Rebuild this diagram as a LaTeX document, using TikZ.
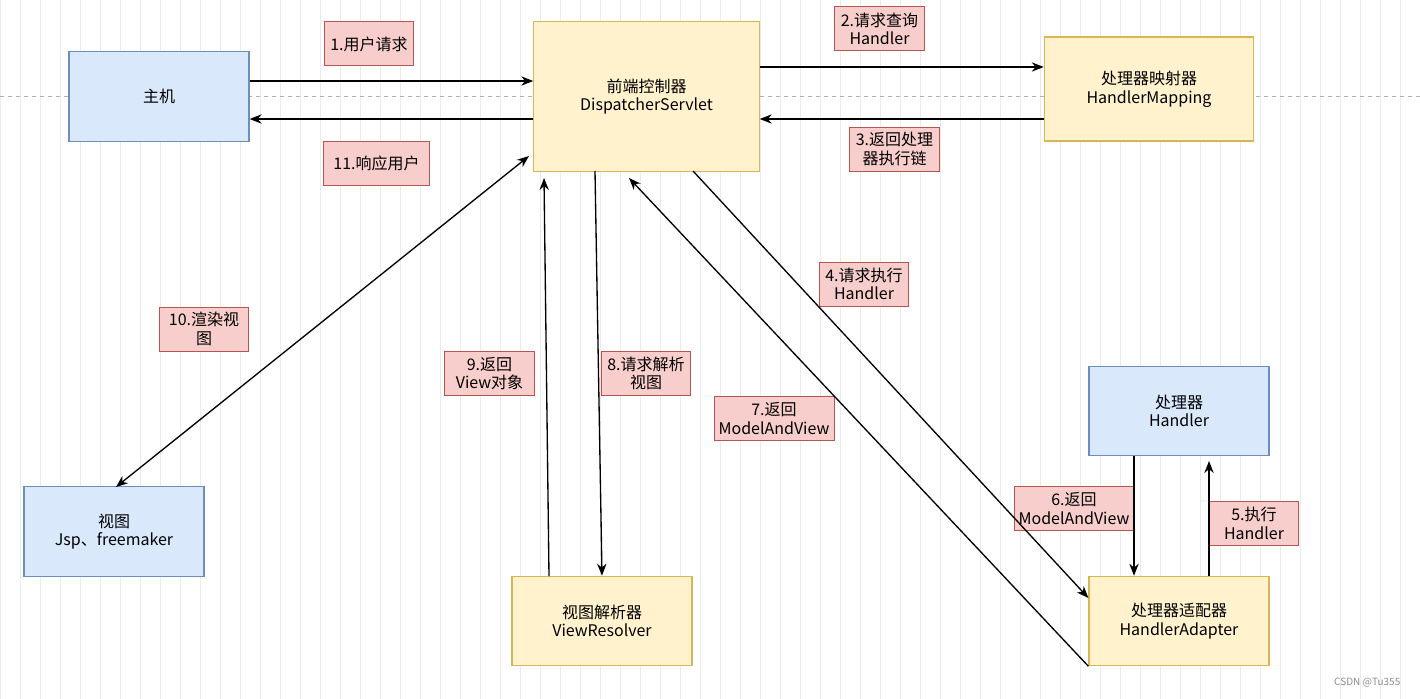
\documentclass[tikz,border=0pt]{standalone}
\usepackage{fontspec}
\setmainfont{Noto Sans CJK SC}
\usetikzlibrary{arrows.meta}
\definecolor{bf}{HTML}{DAE8FC}\definecolor{bs}{HTML}{6C8EBF}
\definecolor{yf}{HTML}{FFF2CC}\definecolor{ys}{HTML}{D6B656}
\definecolor{rf}{HTML}{F8CECC}\definecolor{rs}{HTML}{B85450}
\begin{document}
\begin{tikzpicture}[x=0.75pt,y=-0.75pt,
 box/.style={draw,line width=0.9pt,inner sep=0,align=center,font=\fontsize{12}{14}\selectfont},
 blue/.style={box,fill=bf,draw=bs},
 yel/.style={box,fill=yf,draw=ys},
 lab/.style={box,fill=rf,draw=rs,line width=0.75pt},
 arr/.style={-{Stealth[length=9pt,width=7pt]},line width=1pt}]
\useasboundingbox (0,0) rectangle (1420,699);
\fill[white] (0,0) rectangle (1420,699);
\draw[black!8,line width=0.5pt,step=20] (0,0) grid (1420,699);
\draw[black!30,dashed] (0,96) -- (1420,96);
\newcommand{\bx}[6]{\node[#1,minimum width=#4*0.75pt,minimum height=#5*0.75pt] (#6) at (#2,#3) {#6x};}
\node[blue,minimum width=135pt,minimum height=67pt] (zj) at (159,96.5) {主机};
\node[yel,minimum width=169pt,minimum height=112pt] (ds) at (646.5,96.5) {前端控制器\\DispatcherServlet};
\node[yel,minimum width=157pt,minimum height=78pt] (hm) at (1149,89) {处理器映射器\\HandlerMapping};
\node[blue,minimum width=135pt,minimum height=67pt] (hd) at (1179,411) {处理器\\Handler};
\node[blue,minimum width=135pt,minimum height=67pt] (vw) at (114,531.5) {视图\\Jsp、freemaker};
\node[yel,minimum width=135pt,minimum height=67pt] (vr) at (602,621) {视图解析器\\ViewResolver};
\node[yel,minimum width=135pt,minimum height=67pt] (ha) at (1179,621) {处理器适配器\\HandlerAdapter};
\node[lab,minimum width=67pt,minimum height=33pt] (l1) at (369,44) {1.用户请求};
\node[lab,minimum width=67pt,minimum height=33pt] (l2) at (879.5,29) {2.请求查询\\Handler};
\node[lab,minimum width=67pt,minimum height=33pt] (l3) at (894.5,149) {3.返回处理\\器执行链};
\node[lab,minimum width=79pt,minimum height=33pt] (l11) at (376.5,163.5) {11.响应用户};
\node[lab,minimum width=67pt,minimum height=33pt] (l4) at (864,284) {4.请求执行\\Handler};
\node[lab,minimum width=67pt,minimum height=33pt] (l10) at (204,329) {10.渲染视\\图};
\node[lab,minimum width=67pt,minimum height=33pt] (l9) at (489.5,373.5) {9.返回\\View对象};
\node[lab,minimum width=67pt,minimum height=33pt] (l8) at (646,373.5) {8.请求解析\\视图};
\node[lab,minimum width=90pt,minimum height=33pt] (l7) at (774,418.5) {7.返回\\ModelAndView};
\node[lab,minimum width=90pt,minimum height=33pt] (l6) at (1074,508.5) {6.返回\\ModelAndView};
\node[lab,minimum width=67pt,minimum height=33pt] (l5) at (1254,523.5) {5.执行\\Handler};
\coordinate (p1) at (629,178); \coordinate (p2) at (529,156); \coordinate (p3) at (544,178);
\coordinate (p4) at (1209,461);
\draw[arr] (zj.east |- 0,81) -- (ds.west |- 0,81);
\draw[arr] (ds.west |- 0,119) -- (zj.east |- 0,119);
\draw[arr] (ds.east |- 0,67) -- (hm.west |- 0,67);
\draw[arr] (hm.west |- 0,119) -- (ds.east |- 0,119);
\draw[arr] (693,171) -- (ha.west |- 0,598);
\draw[arr] (ha.south west) -- (p1);
\draw[arr,{Stealth[length=9pt,width=7pt]}-{Stealth[length=9pt,width=7pt]}] (p2) -- (116,487);
\draw[arr] (595,171) -- (vr.north);
\draw[arr] (549,576) -- (p3);
\draw[arr] (hd.south -| 1134,0) -- (ha.north -| 1134,0);
\draw[arr] (ha.north -| 1209,0) -- (p4);
\node[font=\fontsize{7.5}{9}\selectfont,text=black!45,anchor=south east] (wm) at (1405,692) {CSDN @Tu355};
\end{tikzpicture}
\end{document}
